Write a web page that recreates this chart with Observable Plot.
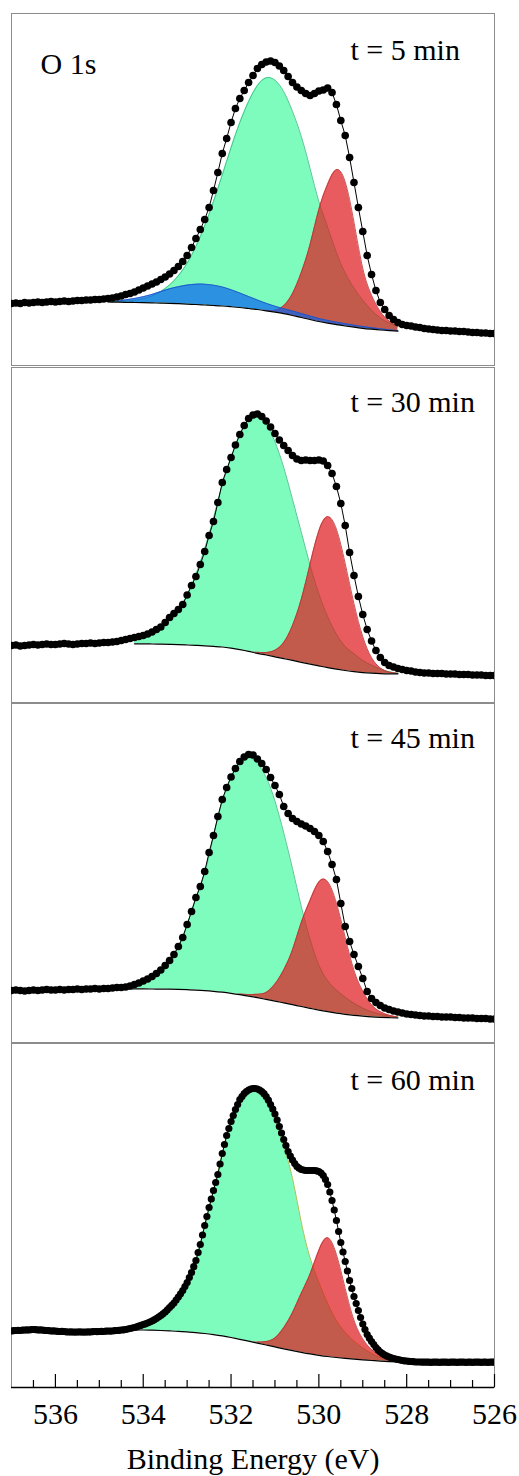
<!DOCTYPE html>
<html>
<head>
<meta charset="utf-8">
<script src="https://cdn.jsdelivr.net/npm/d3@7"></script>
<script src="https://cdn.jsdelivr.net/npm/@observablehq/plot@0.6"></script>
<style>
  body { margin: 0; background: #fff; }
  #chart svg { display: block; }
</style>
</head>
<body>
<div id="chart"></div>
<script>
// ---------------- DATA ----------------
const xDomain = [537, 526];
const majorTicks = [536, 534, 532, 530, 528, 526];
const minorTicks = [536.5, 535.5, 535, 534.5, 533.5, 533, 532.5, 531.5, 531, 530.5, 529.5, 529, 528.5, 527.5, 527, 526.5];
const panelLabels = ["t = 5 min", "t = 30 min", "t = 45 min", "t = 60 min"];
const regionLabel = "O 1s";
const xLabel = "Binding Energy (eV)";

// measured intensity (a.u.), 537.0 -> 526.0 eV, every 0.1 eV
const dots5 = [
  62,62.5,62,63,62.5,63,63.5,63,63.5,64,
  63.5,64,64.5,64,64.5,65,65,65.5,65.5,66,
  66,66.5,67,67.5,68.5,69.5,71,72,73.5,75.5,
  77.5,79.5,81.5,83.5,86,88.5,91.5,95,99,104,
  110,118,127,136,146,158,175,193,212,227,
  243,257,267,275,283,290,297,301,303.5,304.5,
  303,299.5,295,289,283,278.5,275,272,270,272,
  274.5,275.5,277.5,273,261,245,230,208,183,158,
  134,110,91,75,63,56,50,46,43,41,
  40,39.5,38.5,38,37,36.5,36,35.5,35,35,
  34.5,34.5,34,34,33.5,33,33,32.5,32.5,32,
  32
];
const dots30 = [
  57,57.5,56.5,57,57.5,58,57.5,58,58.5,58,
  58,58.5,59,58.5,58,58.5,59,59,59.5,59,
  59.5,60,60,60.5,61,62,63,64,65,66,
  67,68.5,70.5,73,75.5,80,85,89,93,98,
  107.5,117,126,138,151,167,181,200,220,233,
  245,257.5,268,277,284,287.5,288.5,286,281.5,275.5,
  269,262.5,257,252,247,243.5,242,242.5,242,242,
  242.5,241.5,237,229,216,199,177,150,127,106,
  88,73,61.5,52,45,40,37,35.5,34,33,
  32,31.5,30.5,30,29.5,29.5,29,29,29,28.5,
  28.5,28.5,28,28,28,27.5,27.5,27.5,27,27,
  27
];
const dots45 = [
  52,52.5,52,51.5,52,52.5,52,52.5,53,52.5,
  52.5,53,52.5,53,53,53.5,53,53.5,53.5,54,
  53.5,54,54,54.5,55,55,55.5,56.5,58,59.5,
  61.5,63.5,66,69,72.5,77,82,88,96,105,
  118,131,145,156,171,190,207,226,243,255,
  265.5,274,281,285.5,288,287.5,283.5,279,273,265,
  257,248,236,229,224,221,218.5,216.5,214,211,
  207,201,191,178,163,139,116,101,88,76,
  64,51,44,40,37,34.5,33,31.5,30.5,29.5,
  28.5,28,27.5,27,26.5,26.5,26,26,25.5,25.5,
  25.5,25,25,24.5,24.5,24.5,24,24,24,23.5,
  23.5
];
// 537.00 -> 526.00 eV, every 0.05 eV
const dots60 = [
  56.5,56.8,57,57.2,57,57.3,57.5,57.6,57.5,57.8,58,57.8,57.5,57.6,57.5,57.2,57,56.8,56.5,56.6,
  56.5,56.2,56,56.1,56,55.7,55.5,55.6,55.5,55.4,55.5,55.6,55.5,55.3,55.5,55.6,55.5,55.8,56,55.9,
  56,56.1,56,56.3,56.5,56.4,56.5,56.8,57,57.2,57.5,57.7,58,58.5,59,59.5,60,60.7,61.5,62.2,
  63,63.7,64.5,65.5,66.5,67.7,69,70.5,72,73.7,75.5,77.7,80,82.2,84.5,87.5,90.5,93.7,97,101,
  105,110,115,120.8,127,135,143,152.5,162,171,180,188.5,197,205,213,223.5,234,243,252,259,
  266,272,278,283,288,291,294,296,297.5,298.5,299,299,298.5,297.5,296,293.8,291,287.3,283,278.5,
  273.5,267.5,261,254.5,248,242,236,231.5,227.5,224,221,219.3,218,217.5,217,217,217,217,217,216.7,
  216,214.5,212,208,203,195.5,187,177.5,167,156,145,135.5,126,116.5,107,99,91,84,77,70,
  63.5,58,53,49.3,46,43,40,37.6,35.5,33.9,32.5,31.4,30.5,29.7,29,28.5,28,27.5,27,26.7,
  26.5,26.2,26,25.8,25.5,25.5,25.5,25.4,25.3,25.4,25.3,25.2,25.3,25.4,25.3,25.2,25.3,25.4,25.3,25.2,
  25.3,25.4,25.3,25.2,25.3,25.4,25.3,25.2,25.3,25.3,25.2,25.3,25.4,25.3,25.2,25.3,25.3,25.2,25.3,25.4,
  25.3
];

// fit: background and component heights above background, every 0.2 eV from fitStart
const fitStart = [534.8, 534.2, 534.4, 534.2];

const bg5    = [63.5,63.3,63.2,63.0,62.8,62.6,62.4,62.2,61.8,61.4,61.0,60.5,60.0,59.5,58.8,58.0,57.0,56.0,54.7,53.3,51.8,50.0,48.0,46.0,44.0,42.3,40.8,39.5,38.3,37.2,36.3,35.5,34.9,34.4];
const green5 = [0.5,0.6,1.2,2.3,4.1,7,11.6,18.4,28,41,58,79,104,131,159,185,207,224,233,232,222,204,181,151,120,96,72,53,39,28,19,12,7.5,4.5];
const red5   = [0,0,0,0,0,0,0,0,0,0,0,0,0,0,0,0,0,0,0.5,2,8,22,45,75,112,139,155,144,105,60,34,18.5,9.5,5];
const blue5  = [0,1,2.5,4,6,8.5,11.5,14.5,17,19,20.3,20.8,20.3,19,17,14.5,12,9.5,7.5,6,5,4.5,4,3.5,3,2.8,2.5,2.3,2,1.8,1.5,1.2,0.8,0.4];

const bg30    = [58.7,58.6,58.5,58.3,58.1,57.9,57.5,57.1,56.7,56.1,55.5,54.3,52.8,51.1,49.2,47.5,45.7,43.9,42.1,40.2,38.4,36.6,34.8,33.3,32.0,30.8,29.9,29.3,28.9,28.7,28.7];
const green30 = [4,6.5,9.5,16,25,35,50,71,97,128,162,190,215,232,237,231,215,191,161,130,99,72,51,35,24,18,12,8,4.5,2,0.5];
const red30   = [0,0,0,0,0,0,0,0,0,0,0,0,0,0,1,2.5,6.5,16,35,63,100,135,151,140,107,68,36,15.6,5.6,1.7,0.3];

const bg45    = [53.7,53.7,53.6,53.5,53.4,53.3,53.1,52.8,52.4,51.9,51.2,50.3,49.2,47.9,46.4,44.8,43.1,41.4,39.6,37.8,36.0,34.2,32.4,30.8,29.4,28.2,27.2,26.4,25.7,25.2,24.8,24.5];
const green45 = [2,4.3,8,12.5,19,29,43,65,92,118,155,191,216,233,239,234,222,200,170,136,100,69,45,31,23,17,12,8,5,3,1.5,0.5];
const red45   = [0,0,0,0,0,0,0,0,0,0,0,0,0,0.5,1.5,3.5,7,17,33,55,84,108,128,130,110,77,45,25,12,5.5,2.5,1];

const bg60    = [57.7,57.5,57.3,57.0,56.6,56.2,55.6,54.9,54.0,52.9,51.6,50.0,48.2,46.3,44.4,42.5,40.6,38.7,36.9,35.2,33.6,32.2,31.0,30.0,29.1,28.3,27.6,27.0,26.4,25.9,25.5];
const green60 = [2.3,5.5,9,15,23.4,34,49.4,72,108,144,182,216,240,251,252,245,228,203,172,130,96,73,53,37,26,18,12,7,3.5,1.5,0.5];
const red60   = [0,0,0,0,0,0,0,0,0,0,0,0,0,0,1,3.5,9,21,38,59,80,105,118.7,103,70,39,21,11,5.5,1,0];

// ---------------- STYLE ----------------
const FONT = "'Liberation Serif','Times New Roman',Times,serif";
const FS = 30;
const GREEN = {fill: "#7dfcbe", opacity: 1, edge: "#35b57c"};
const GREEN60 = {fill: "#7dfcbe", opacity: 1, edge: "#93ad2a"};
const RED = {fill: "rgb(222,26,30)", opacity: 0.71, edge: "#b83232"};
const BLUE = {fill: "rgb(11,100,240)", opacity: 0.7, edge: "#1a4fc0"};

function makePanel(cfg) {
  const {label, dots, dotStep, dotR, start, bg, comps, height, mt, mb, labelDy, extra, axis} = cfg;
  const H = height - mt - mb;
  const dotRows = dots.map((v, i) => ({E: +(537 - i * dotStep).toFixed(3), I: v}));
  const bgRows = bg.map((b, i) => ({E: +(start - i * 0.2).toFixed(2), I: b}));
  const marks = [Plot.frame({stroke: "#8c8c8c", strokeWidth: 1})];
  comps.forEach(c => {
    const rows = c.vals.map((h, i) => ({E: +(start - i * 0.2).toFixed(2), base: bg[i], top: bg[i] + h, h}));
    marks.push(Plot.areaY(rows, {x: "E", y1: "base", y2: "top", fill: c.style.fill, fillOpacity: c.style.opacity, curve: "natural"}));
    marks.push(Plot.lineY(rows.filter(d => d.h > 0.2), {x: "E", y: "top", stroke: c.style.edge, strokeWidth: 0.8, curve: "natural"}));
  });
  marks.push(Plot.lineY(bgRows, {x: "E", y: "I", stroke: "black", strokeWidth: 1.2, curve: "natural"}));
  marks.push(Plot.lineY(dotRows, {x: "E", y: "I", stroke: "black", strokeWidth: 1, clip: true}));
  marks.push(Plot.dot(dotRows, {x: "E", y: "I", r: dotR, fill: "black", stroke: null, clip: true}));
  marks.push(Plot.text([label], {text: d => d, frameAnchor: "top-left", dx: 339, dy: labelDy, textAnchor: "start", lineAnchor: "bottom", fontSize: FS, fill: "black"}));
  if (extra) {
    marks.push(Plot.text([extra], {text: d => d, frameAnchor: "top-left", dx: 29, dy: 60, textAnchor: "start", lineAnchor: "bottom", fontSize: FS, fill: "black"}));
  }
  if (axis) {
    marks.push(Plot.ruleY([0], {stroke: "black", strokeWidth: 1.3}));
    marks.push(Plot.ruleX(majorTicks, {x: d => d, insetTop: H - 13, stroke: "black", strokeWidth: 1.2}));
    marks.push(Plot.ruleX(minorTicks, {x: d => d, insetTop: H - 7, stroke: "black", strokeWidth: 1.2}));
    marks.push(Plot.text(majorTicks, {x: d => d, text: d => String(d), frameAnchor: "bottom", dy: 36, lineAnchor: "bottom", fontSize: FS, fill: "black"}));
    marks.push(Plot.text([xLabel], {text: d => d, frameAnchor: "bottom", dy: 81, lineAnchor: "bottom", fontSize: FS, fill: "black"}));
  }
  return Plot.plot({
    width: 519,
    height,
    marginTop: mt,
    marginBottom: mb,
    marginLeft: 11,
    marginRight: 25,
    x: {domain: xDomain, axis: null},
    y: {domain: [0, H], axis: null},
    style: {fontFamily: FONT, background: "white", overflow: "visible"},
    marks
  });
}

const chart = document.getElementById("chart");
const configs = [
  {label: panelLabels[0], dots: dots5, dotStep: 0.1, dotR: 3.8, start: fitStart[0], bg: bg5,
   comps: [{vals: green5, style: GREEN}, {vals: red5, style: RED}, {vals: blue5, style: BLUE}],
   height: 366, mt: 13, mb: 1, labelDy: 46, extra: regionLabel},
  {label: panelLabels[1], dots: dots30, dotStep: 0.1, dotR: 3.8, start: fitStart[1], bg: bg30,
   comps: [{vals: green30, style: GREEN}, {vals: red30, style: RED}],
   height: 336, mt: 1, mb: 0, labelDy: 44},
  {label: panelLabels[2], dots: dots45, dotStep: 0.1, dotR: 3.8, start: fitStart[2], bg: bg45,
   comps: [{vals: green45, style: GREEN}, {vals: red45, style: RED}],
   height: 340, mt: 1, mb: 0, labelDy: 44},
  {label: panelLabels[3], dots: dots60, dotStep: 0.05, dotR: 3.6, start: fitStart[3], bg: bg60,
   comps: [{vals: green60, style: GREEN60}, {vals: red60, style: RED}],
   height: 434, mt: 1, mb: 89, labelDy: 46, axis: true}
];
configs.forEach(c => chart.appendChild(makePanel(c)));
</script>
</body>
</html>
